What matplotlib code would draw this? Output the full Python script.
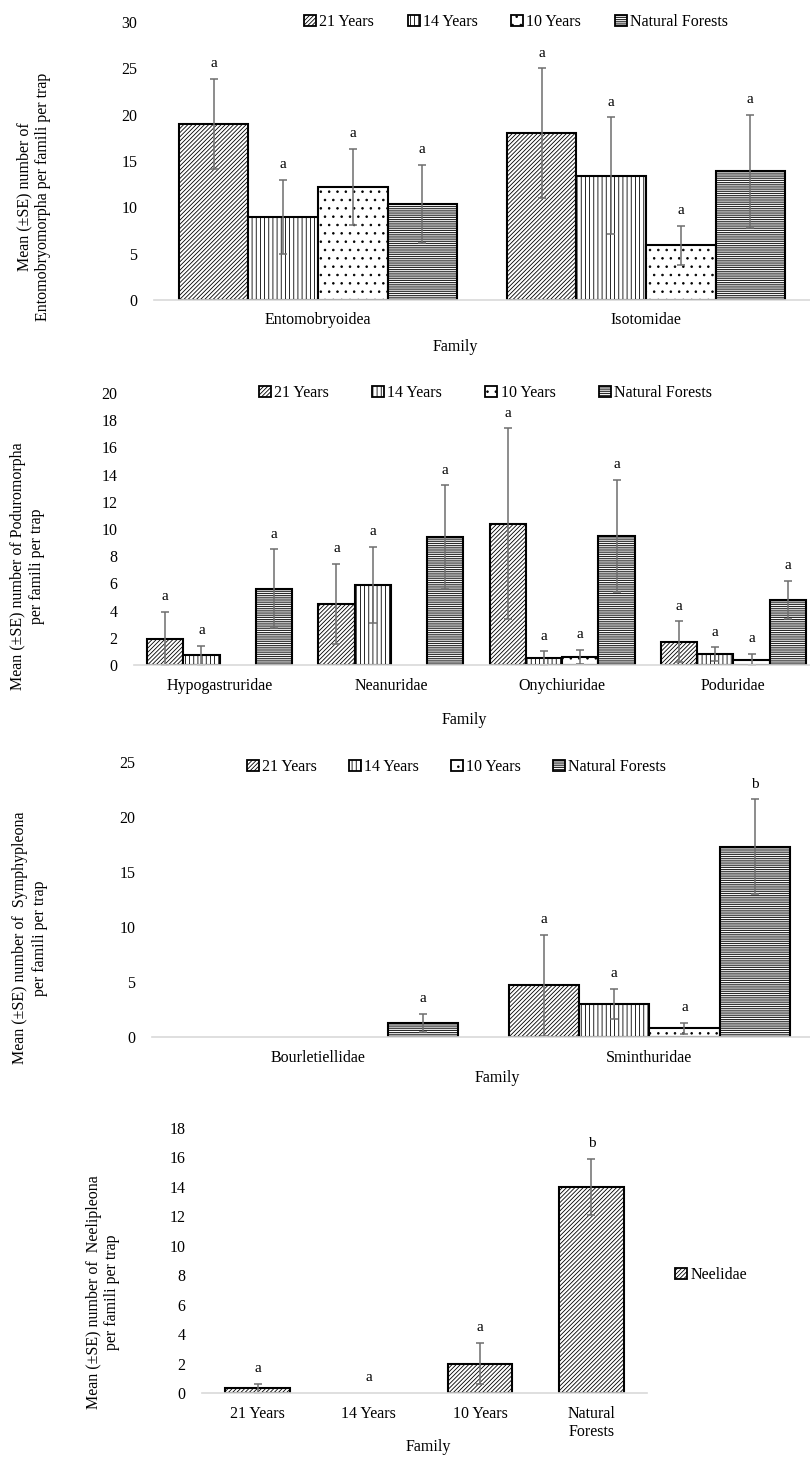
import numpy as np
import matplotlib
matplotlib.use("Agg")
import matplotlib.pyplot as plt
from matplotlib.patches import Patch

plt.rcParams['font.family'] = ['Liberation Serif', 'DejaVu Serif']
plt.rcParams['hatch.linewidth'] = 0.6

series = ['21 Years', '14 Years', '10 Years', 'Natural Forests']
hatches = ['////////', '||||', '..', '---------']

# Entomobryomorpha
ento_fam = ['Entomobryoidea', 'Isotomidae']
ento_mean = [[19.0, 18.0], [9.0, 13.4], [12.2, 5.9], [10.4, 13.9]]
ento_se = [[4.9, 7.0], [4.0, 6.3], [4.1, 2.1], [4.2, 6.1]]
ento_let = [['a', 'a'], ['a', 'a'], ['a', 'a'], ['a', 'a']]

# Poduromorpha
podu_fam = ['Hypogastruridae', 'Neanuridae', 'Onychiuridae', 'Poduridae']
podu_mean = [[1.9, 4.5, 10.4, 1.7], [0.7, 5.9, 0.5, 0.8],
             [0.0, 0.0, 0.6, 0.4], [5.6, 9.4, 9.5, 4.8]]
podu_se = [[2.0, 2.95, 7.0, 1.5], [0.7, 2.8, 0.5, 0.5],
           [0.0, 0.0, 0.5, 0.4], [2.9, 3.8, 4.1, 1.4]]
podu_let = [['a', 'a', 'a', 'a'], ['a', 'a', 'a', 'a'],
            ['', '', 'a', 'a'], ['a', 'a', 'a', 'a']]

# Symphypleona
symp_fam = ['Bourletiellidae', 'Sminthuridae']
symp_mean = [[0.0, 4.7], [0.0, 3.0], [0.0, 0.8], [1.3, 17.3]]
symp_se = [[0.0, 4.6], [0.0, 1.35], [0.0, 0.5], [0.8, 4.3]]
symp_let = [['', 'a'], ['', 'a'], ['', 'a'], ['a', 'b']]

# Neelipleona
neel_cat = ['21 Years', '14 Years', '10 Years', 'Natural\nForests']
neel_mean = [0.32, 0.0, 2.0, 14.0]
neel_se = [0.3, 0.0, 1.4, 1.9]
neel_let = ['a', 'a', 'a', 'b']

FS = 11.5
W, H = 810, 1457
fig = plt.figure(figsize=(W / 100, H / 100), dpi=100)


def px_axes(x0, x1, ytop, ybot):
    return fig.add_axes([x0 / W, 1 - ybot / H, (x1 - x0) / W, (ybot - ytop) / H])


def style(ax, ymax, step):
    ax.set_ylim(0, ymax)
    ax.set_yticks(np.arange(0, ymax + 0.1, step))
    for s in ['top', 'right', 'left']:
        ax.spines[s].set_visible(False)
    ax.spines['bottom'].set_color('#d9d9d9')
    ax.spines['bottom'].set_linewidth(1.2)
    ax.tick_params(axis='y', length=0, pad=12, labelsize=FS)
    ax.tick_params(axis='x', length=0, pad=9, labelsize=FS)


def bars(ax, xs, means, ses, lets, w, hatch):
    for xx, m, s, l in zip(xs, means, ses, lets):
        if m > 0:
            ax.bar(xx, m, w, facecolor='white', edgecolor='black',
                   hatch=hatch, linewidth=1.5)
        if s > 0:
            ax.errorbar(xx, m, yerr=s, fmt='none', ecolor='#6e6e6e',
                        elinewidth=1.1, capsize=3, capthick=1.1)
        if l:
            ax.annotate(l, (xx, m + s), xytext=(0, 11), textcoords='offset points',
                        ha='center', va='center', fontsize=FS - 0.5)


def grouped(ax, fam, means, ses, lets, ymax, step):
    x = np.arange(len(fam))
    w = 0.212
    for i in range(4):
        bars(ax, x + (i - 1.5) * w, means[i], ses[i], lets[i], w, hatches[i])
    ax.set_xlim(-0.5, len(fam) - 0.5)
    ax.set_xticks(x, fam)
    style(ax, ymax, step)


def legend(x, y, colsp):
    handles = [Patch(facecolor='white', edgecolor='black', hatch=h, label=s, linewidth=1.3)
               for h, s in zip(hatches, series)]
    fig.legend(handles=handles, loc='center left', bbox_to_anchor=(x / W, 1 - y / H),
               ncol=4, frameon=False, fontsize=FS, handlelength=0.75, handleheight=0.75,
               handletextpad=0.2, columnspacing=colsp, borderpad=0, borderaxespad=0)


def ylab(x, y, txt):
    fig.text(x / W, 1 - y / H, txt, rotation=90, ha='center', va='center',
             multialignment='center', fontsize=FS, linespacing=1.25)


def xlab(x, y):
    fig.text(x / W, 1 - y / H, 'Family', ha='center', va='center', fontsize=FS)


ax1 = px_axes(154, 810, 22, 300)
grouped(ax1, ento_fam, ento_mean, ento_se, ento_let, 30, 5)
legend(304, 22, 2.1)
ylab(34, 197, 'Mean (±SE) number of\nEntomobryomorpha per famili per trap')
xlab(455, 347)

ax2 = px_axes(134, 819, 393, 665)
grouped(ax2, podu_fam, podu_mean, podu_se, podu_let, 20, 2)
legend(259, 393, 2.7)
ylab(28, 566, 'Mean (±SE) number of Poduromorpha\nper famili per trap')
xlab(464, 720)

ax3 = px_axes(152, 815, 762, 1037)
grouped(ax3, symp_fam, symp_mean, symp_se, symp_let, 25, 5)
legend(247, 767, 2.0)
ylab(30, 938, 'Mean (±SE) number of  Symphypleona\nper famili per trap')
xlab(497, 1078)

ax4 = px_axes(202, 647, 1128, 1393)
x4 = np.arange(len(neel_cat))
bars(ax4, x4, neel_mean, neel_se, neel_let, 0.58, '////////')
ax4.set_xlim(-0.5, len(neel_cat) - 0.5)
ax4.set_xticks(x4, neel_cat)
style(ax4, 18, 2)
ax4.legend(handles=[Patch(facecolor='white', edgecolor='black', hatch='////////',
                          label='Neelidae', linewidth=1.3)],
           loc='center left', bbox_to_anchor=(675 / W, 1 - 1275 / H),
           bbox_transform=fig.transFigure, frameon=False, fontsize=FS,
           handlelength=0.75, handleheight=0.75, handletextpad=0.2,
           borderpad=0, borderaxespad=0)
ylab(103, 1292, 'Mean (±SE) number of  Neelipleona\nper famili per trap')
xlab(428, 1447)

fig.savefig('out.png', dpi=100)
